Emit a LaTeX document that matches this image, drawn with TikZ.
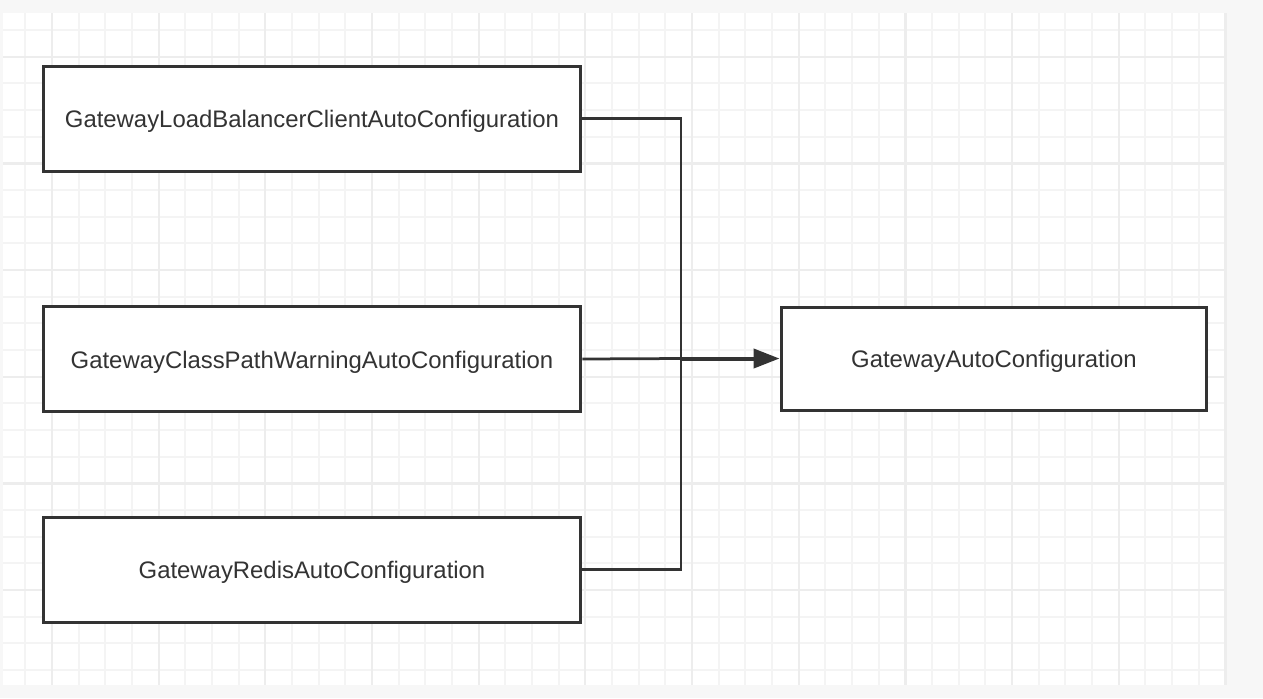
\documentclass[tikz,border=0pt]{standalone}
\usepackage{fontspec}
\setmainfont{Liberation Sans}
\usepackage{xcolor}
\usetikzlibrary{arrows.meta}

\definecolor{ink}{HTML}{333333}
\definecolor{paper}{HTML}{F7F7F7}
\definecolor{minorgrid}{HTML}{F4F4F4}
\definecolor{majorgrid}{HTML}{EDEDED}

\begin{document}
\begin{tikzpicture}[
  x=0.02cm, y=-0.02cm,
  cfg/.style={draw=ink, fill=white, line width=0.06cm, minimum width=10.76cm, minimum height=2.1cm,
    inner sep=0pt, text=ink, text height=0.36cm, text depth=0pt, font=\fontsize{13.6pt}{16pt}\selectfont},
  link/.style={draw=ink, line width=0.055cm},
  merge/.style={draw=ink, line width=0.08cm, -{Triangle[length=0.52cm, width=0.38cm]}},
  minorline/.style={draw=minorgrid, line width=0.04cm},
  majorline/.style={draw=majorgrid, line width=0.045cm}
]
\useasboundingbox (0,0) rectangle (1263,698);
\fill[paper] (0,0) rectangle (1263,698);
\fill[white] (3,13) rectangle (1227,685);

% grid
\foreach \i in {0,...,45}
  \draw[minorline] ({25.33+26.67*\i},13) -- ({25.33+26.67*\i},685);
\foreach \i in {0,...,24}
  \draw[minorline] (3,{30+26.67*\i}) -- (1227,{30+26.67*\i});
\foreach \j in {0,...,11}
  \draw[majorline] ({52+106.67*\j},13) -- ({52+106.67*\j},685);
\foreach \j in {0,...,5}
  \draw[majorline] (3,{56.7+106.67*\j}) -- (1227,{56.7+106.67*\j});

% configurations
\node[cfg] (lb) at (312,118.5) {GatewayLoadBalancerClientAutoConfiguration};
\node[cfg] (cp) at (312,359) {GatewayClassPathWarningAutoConfiguration};
\node[cfg] (redis) at (312,569.5) {GatewayRedisAutoConfiguration};
\node[cfg, minimum width=8.52cm, minimum height=2.06cm] (gac) at (994,358.5) {GatewayAutoConfiguration};

\coordinate (join) at (681,358.5);

\draw[link] (lb.east) -| (join);
\draw[link] (redis.east) -| (join);
\draw[link] (cp.east) -- (join);
\draw[merge] (join) -- (gac.west);
\end{tikzpicture}
\end{document}
